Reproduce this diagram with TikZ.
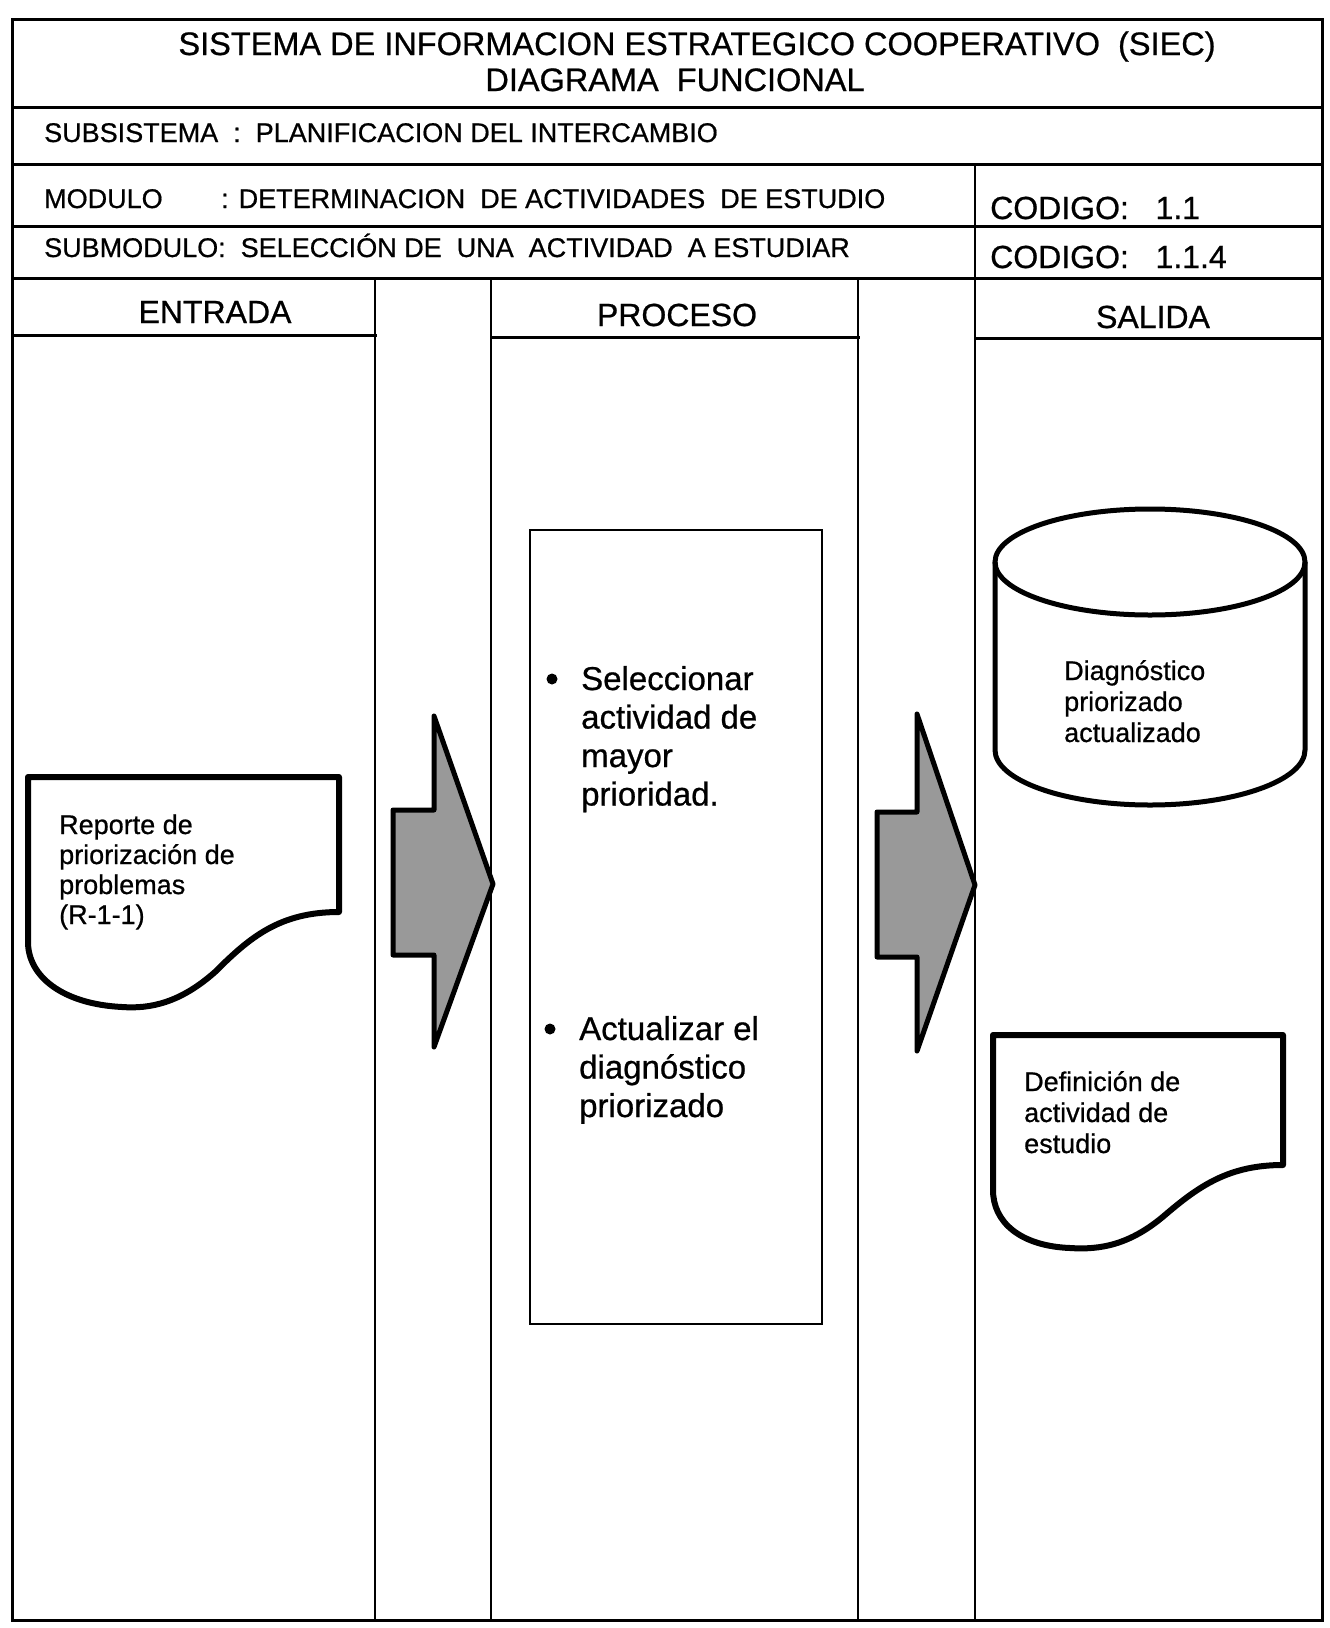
\documentclass[tikz,border=0pt]{standalone}
\usepackage{fontspec}
\setmainfont{Liberation Sans}[FakeBold=0.7]
\begin{document}
\begin{tikzpicture}[x=1pt,y=-1pt,
  rule/.style={line width=3pt, line cap=rect},
  thinrule/.style={line width=2.6pt},
  titletext/.style={inner sep=0pt, anchor=base, font=\fontsize{32.5pt}{36pt}\selectfont},
  rowtext/.style={inner sep=0pt, anchor=base west, font=\fontsize{27pt}{30pt}\selectfont},
  codetext/.style={inner sep=0pt, anchor=base west, font=\fontsize{32pt}{36pt}\selectfont},
  headtext/.style={inner sep=0pt, anchor=base, font=\fontsize{32pt}{36pt}\selectfont},
  doctext/.style={inner sep=0pt, anchor=base west, font=\fontsize{27pt}{30pt}\selectfont},
  bullettext/.style={inner sep=0pt, anchor=base west, font=\fontsize{33pt}{38pt}\selectfont},
  bulletdot/.style={circle, fill=black, inner sep=0pt, minimum size=11pt},
  docshape/.style={line width=6pt, line join=round, fill=white},
  flowarrow/.style={line width=5pt, line join=round, fill=black!40},
]
\useasboundingbox (0,0) rectangle (1330,1628);
\fill[white] (0,0) rectangle (1330,1628);

% ---- table frame ----
\draw[rule] (12,19) rectangle (1322,1620);
\draw[rule] (12,107) -- (1322,107);
\draw[rule] (12,164) -- (1322,164);
\draw[rule] (12,226) -- (1322,226);
\draw[rule] (12,278) -- (1322,278);
\draw[thinrule] (975,164) -- (975,1620);
\draw[thinrule] (375,278) -- (375,1620);
\draw[thinrule] (491,278) -- (491,1620);
\draw[thinrule] (858,278) -- (858,1620);
% header bottoms of the three main columns
\draw[rule] (12,335) -- (375,335);
\draw[rule] (491,337) -- (858,337);
\draw[rule] (975,338) -- (1322,338);

% ---- header texts ----
\node[titletext] (t1) at (697,55) {SISTEMA DE INFORMACION ESTRATEGICO COOPERATIVO\ \ (SIEC)};
\node[titletext] (t2) at (675,91) {DIAGRAMA\ \ FUNCIONAL};
\node[rowtext] (sub) at (44,142) {SUBSISTEMA\ \ :\ \ PLANIFICACION DEL INTERCAMBIO};
\node[rowtext] (mod) at (44,208) {MODULO};
\node[rowtext] (modv) at (221,208) {: DETERMINACION\ \ DE ACTIVIDADES\ \ DE ESTUDIO};
\node[rowtext] (smod) at (44,257) {SUBMODULO:\ \ SELECCIÓN DE\ \ UNA\ \ ACTIVIDAD\ \ A ESTUDIAR};
\node[codetext] (c1) at (990,219) {CODIGO:\ \ \ 1.1};
\node[codetext] (c2) at (990,268) {CODIGO:\ \ \ 1.1.4};
\node[headtext] (hin) at (215,323) {ENTRADA};
\node[headtext] (hpr) at (677,326) {PROCESO};
\node[headtext] (hout) at (1153,328) {SALIDA};

% ---- input document ----
\draw[docshape] (28,777) -- (339,777) -- (339,912)
  .. controls (280,912) and (250,937) .. (215,972)
  .. controls (180,1003) and (150,1009) .. (122,1007)
  .. controls (62,1004) and (28,976) .. (28,942) -- cycle;
\foreach \t [count=\i from 0] in {Reporte de, priorización de, problemas, (R-1-1)}
  \node[doctext] (rep\i) at (59,{834+30*\i}) {\t};

% ---- flow arrows ----
\draw[flowarrow] (393,810) -- (434,810) -- (434,716) -- (493,884)
  -- (434,1047) -- (434,955) -- (393,955) -- cycle;
\draw[flowarrow] (877,812) -- (917,812) -- (917,714) -- (975,885)
  -- (917,1051) -- (917,957) -- (877,957) -- cycle;

% ---- process box ----
\draw[line width=2.6pt] (530,530) rectangle (822,1324);
\node[bulletdot] (b1) at (552,679) {};
\foreach \t [count=\i from 0] in {Seleccionar, actividad de, mayor, prioridad.}
  \node[bullettext] (p\i) at (581,{690+38.5*\i}) {\t};
\node[bulletdot] (b2) at (550,1029) {};
\foreach \t [count=\i from 0] in {Actualizar el, diagnóstico, priorizado}
  \node[bullettext] (q\i) at (579,{1040+38.5*\i}) {\t};

% ---- data store ----
\draw[line width=5pt] (995,562) -- (995,750)
  arc[start angle=180, end angle=0, x radius=155, y radius=55] -- (1305,562);
\draw[line width=5pt] (1150,562) ellipse[x radius=155, y radius=53];
\foreach \t [count=\i from 0] in {Diagnóstico, priorizado, actualizado}
  \node[doctext] (d\i) at (1064,{680+31*\i}) {\t};

% ---- output document ----
\draw[docshape] (993,1035) -- (1283,1035) -- (1283,1165)
  .. controls (1230,1165) and (1200,1185) .. (1165,1215)
  .. controls (1130,1245) and (1100,1250) .. (1070,1248)
  .. controls (1020,1246) and (993,1222) .. (993,1190) -- cycle;
\foreach \t [count=\i from 0] in {Definición de, actividad de, estudio}
  \node[doctext] (o\i) at (1024,{1091+31*\i}) {\t};
\end{tikzpicture}
\end{document}
